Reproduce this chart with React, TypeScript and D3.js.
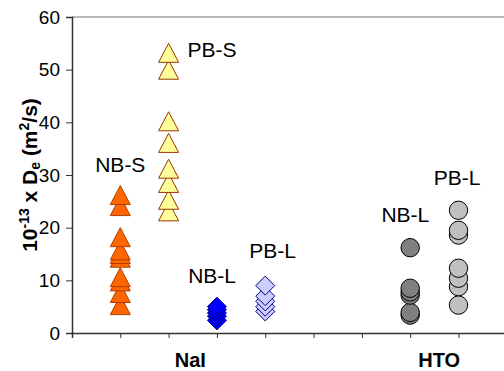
import * as d3 from "d3";
import { useEffect, useRef } from "react";

// values read per sample group (10^-13 m2/s)
const nbsNaI = [26.1, 24.0, 18.1, 15.6, 14.9, 14.2, 10.5, 9.7, 7.5, 5.2];
const pbsNaI = [53.1, 49.9, 40.1, 36.0, 31.1, 28.4, 25.2, 23.0];
const nblNaI = [5.0, 4.4, 3.8, 3.2, 2.4];
const pblNaI = [9.0, 7.0, 6.0, 5.0, 4.1];
const nblHTO = [16.2, 8.5, 7.8, 7.2, 3.9, 3.4];
const pblHTO = [23.3, 19.5, 18.6, 12.3, 10.4, 8.8, 5.3];

const yTicks = [0, 10, 20, 30, 40, 50, 60];
const xTicks = [1, 2, 3, 4, 5, 6, 7, 8, 9];

const groups = [
  { name: "NB-S", slot: 1, values: nbsNaI, shape: "triangle", fill: "#FF6600", stroke: "#B23C00" },
  { name: "PB-S", slot: 2, values: pbsNaI, shape: "triangle", fill: "#FFFF99", stroke: "#993300" },
  { name: "NB-L", slot: 3, values: nblNaI, shape: "diamond", fill: "#0000FF", stroke: "#000080" },
  { name: "PB-L", slot: 4, values: pblNaI, shape: "diamond", fill: "#CCCCFF", stroke: "#000080" },
  { name: "NB-L", slot: 7, values: nblHTO, shape: "circle", fill: "#808080", stroke: "#000000" },
  { name: "PB-L", slot: 8, values: pblHTO, shape: "circle", fill: "#C0C0C0", stroke: "#000000" },
];

// data labels, placed in data units
const labels = [
  { text: "NB-S", x: 1, y: 30.5 },
  { text: "PB-S", x: 2.9, y: 52.4 },
  { text: "NB-L", x: 2.9, y: 9.5 },
  { text: "PB-L", x: 4.15, y: 14.2 },
  { text: "NB-L", x: 6.9, y: 21.1 },
  { text: "PB-L", x: 7.97, y: 28.1 },
];

const categories = [
  { text: "NaI", x: 2.45 },
  { text: "HTO", x: 7.6 },
];

const W = 504;
const H = 371;
const margin = { top: 17, left: 72, bottom: 38 };
const FONT = "'Liberation Sans', Arial, sans-serif";

const markerPath = (shape: string) => {
  if (shape === "triangle") return "M0,-10L10,9L-10,9Z";
  if (shape === "diamond") return "M0,-9.5L9.5,0L0,9.5L-9.5,0Z";
  return d3.symbol(d3.symbolCircle, Math.PI * 9.2 * 9.2)() as string;
};

export default function App() {
  const ref = useRef<SVGSVGElement>(null);

  useEffect(() => {
    const svg = d3.select(ref.current);
    svg.selectAll("*").remove();

    const x = d3.scaleLinear().domain([0, 9]).range([margin.left, 506.8]);
    const y = d3.scaleLinear().domain([0, 60]).range([H - margin.bottom, margin.top]);

    // plot frame (top border grey)
    svg.append("line")
      .attr("x1", x(0)).attr("x2", x(9))
      .attr("y1", y(60)).attr("y2", y(60))
      .attr("stroke", "#A0A0A0").attr("stroke-width", 1.5);

    // y axis
    const yAxis = d3.axisLeft(y).tickValues(yTicks).tickSize(6).tickPadding(6);
    const gy = svg.append("g").attr("transform", `translate(${x(0)},0)`).call(yAxis);
    gy.select(".domain").attr("stroke", "#333").attr("stroke-width", 1.5);
    gy.selectAll(".tick line").attr("stroke", "#333");
    gy.selectAll(".tick text")
      .attr("font-family", FONT).attr("font-size", 19).attr("fill", "#000");

    // x axis
    const xAxis = d3.axisBottom(x).tickValues(xTicks).tickSize(5).tickFormat(() => "");
    const gx = svg.append("g").attr("transform", `translate(0,${y(0)})`).call(xAxis);
    gx.select(".domain").attr("stroke", "#333").attr("stroke-width", 1.5);
    gx.selectAll(".tick line").attr("stroke", "#333");

    // markers
    groups.forEach((g) => {
      svg.append("g")
        .selectAll("path")
        .data(g.values.slice().reverse())
        .enter()
        .append("path")
        .attr("d", markerPath(g.shape))
        .attr("transform", (v) => `translate(${x(g.slot)},${y(v)})`)
        .attr("fill", g.fill)
        .attr("stroke", g.stroke)
        .attr("stroke-width", 1);
    });

    // data labels
    svg.append("g")
      .selectAll("text")
      .data(labels)
      .enter()
      .append("text")
      .attr("x", (d) => x(d.x))
      .attr("y", (d) => y(d.y))
      .attr("text-anchor", "middle")
      .attr("font-family", FONT)
      .attr("font-size", 21)
      .text((d) => d.text);

    // category names
    svg.append("g")
      .selectAll("text")
      .data(categories)
      .enter()
      .append("text")
      .attr("x", (d) => x(d.x))
      .attr("y", 367)
      .attr("text-anchor", "middle")
      .attr("font-family", FONT)
      .attr("font-size", 20)
      .attr("font-weight", "bold")
      .text((d) => d.text);

    // y title
    const t = svg.append("text")
      .attr("transform", `translate(37,${(y(0) + y(60)) / 2}) rotate(-90)`)
      .attr("text-anchor", "middle")
      .attr("font-family", FONT)
      .attr("font-size", 21)
      .attr("font-weight", "bold");
    t.append("tspan").text("10");
    t.append("tspan").attr("font-size", 14).attr("dy", -8).text("-13");
    t.append("tspan").attr("dy", 8).text(" x D");
    t.append("tspan").attr("font-size", 14).attr("dy", 3).text("e");
    t.append("tspan").attr("dy", -3).text(" (m");
    t.append("tspan").attr("font-size", 14).attr("dy", -8).text("2");
    t.append("tspan").attr("dy", 8).text("/s)");
  }, []);

  return (
    <svg
      ref={ref}
      width={W}
      height={H}
      style={{ position: "absolute", left: 0, top: 0, background: "#fff" }}
    />
  );
}
